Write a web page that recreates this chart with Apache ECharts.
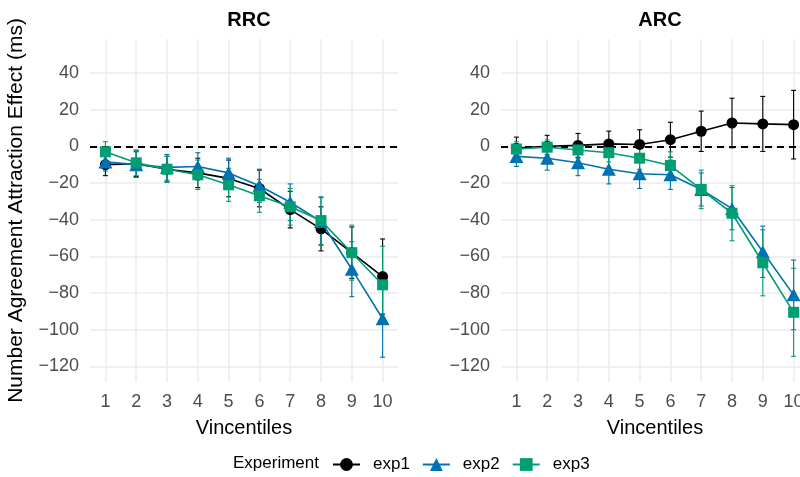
<!DOCTYPE html>
<html>
<head>
<meta charset="utf-8">
<script src="https://cdn.jsdelivr.net/npm/echarts@6/dist/echarts.min.js"></script>
<style>
html,body{margin:0;padding:0;background:#fff;}
#chart{width:800px;height:477px;}
</style>
</head>
<body>
<div id="chart"></div>
<script>
// ---------- data ----------
const vincentiles = [1, 2, 3, 4, 5, 6, 7, 8, 9, 10];
const yTicks = [-120, -100, -80, -60, -40, -20, 0, 20, 40];
const panels = ['RRC', 'ARC'];
const experiments = ['exp1', 'exp2', 'exp3'];

const rrcExp1 = [-10, -9.5, -12.5, -14.5, -17.5, -23, -34.5, -45, -58, -71];
const rrcExp2 = [-8.5, -10, -11.5, -11, -14.5, -21.5, -30.5, -41, -67, -94];
const rrcExp3 = [-3, -9, -12.5, -15.5, -21, -27, -33, -40.5, -58, -75.5];
const rrcExp1Err = [6, 7, 7, 8, 10, 10, 10, 12, 14, 20.5];
const rrcExp2Err = [5, 7, 7, 7.5, 8, 9, 10, 13, 15, 21];
const rrcExp3Err = [5.5, 7, 7, 8, 9, 9, 10, 13, 15, 21];

const arcExp1 = [-1, 0, 0.5, 1.3, 1, 3.6, 8.2, 12.7, 12.2, 11.8];
const arcExp2 = [-5.5, -6.5, -9, -12.5, -15, -15.5, -23.5, -34, -57.5, -81];
const arcExp3 = [-1.5, -0.5, -2, -3.5, -6.5, -10.5, -23.5, -36.5, -63.5, -90.5];
const arcExp1Err = [6, 6, 6.5, 7, 8, 9.5, 11, 13.5, 15, 18.7];
const arcExp2Err = [5.5, 6.5, 7, 8, 8, 8, 9, 11.5, 14, 19];
const arcExp3Err = [4, 4, 4.5, 5, 6, 7.5, 10.5, 15, 18, 24];

// ---------- styling ----------
const colors = {exp1: '#000000', exp2: '#0072B2', exp3: '#009E73'};
const symbols = {exp1: 'circle', exp2: 'triangle', exp3: 'rect'};
const symbolSizes = {exp1: 11, exp2: [14, 13], exp3: 11};
const FONT = '"Liberation Sans", Arial, Helvetica, sans-serif';

const panelData = [
  {means: [rrcExp1, rrcExp2, rrcExp3], errs: [rrcExp1Err, rrcExp2Err, rrcExp3Err]},
  {means: [arcExp1, arcExp2, arcExp3], errs: [arcExp1Err, arcExp2Err, arcExp3Err]}
];

const gridLefts = [90, 501];
const gridW = 308;

const grids = gridLefts.map(l => ({left: l, top: 39, width: gridW, height: 343, containLabel: false, outerBoundsMode: 'none'}));

const xAxes = gridLefts.map((l, i) => ({
  type: 'value', gridIndex: i, min: 0.5, max: 10.5,
  name: 'Vincentiles', nameLocation: 'middle', nameGap: 36,
  nameTextStyle: {fontFamily: FONT, fontSize: 20, color: '#000'},
  axisLine: {show: false}, axisTick: {show: false, customValues: vincentiles},
  axisLabel: {customValues: vincentiles, margin: 11, fontFamily: FONT, fontSize: 18, color: '#4D4D4D', hideOverlap: false},
  splitLine: {show: true, lineStyle: {color: '#EBEBEB', width: 1.5}}
}));

const yAxes = gridLefts.map((l, i) => ({
  type: 'value', gridIndex: i, min: -128.5, max: 58.5,
  name: i === 0 ? 'Number Agreement Attraction Effect (ms)' : '',
  nameLocation: 'middle', nameGap: 63, nameRotate: 90,
  nameTextStyle: {fontFamily: FONT, fontSize: 21, color: '#000'},
  axisLine: {show: false}, axisTick: {show: false, customValues: yTicks},
  axisLabel: {customValues: yTicks, margin: 11, fontFamily: FONT, fontSize: 18, color: '#4D4D4D',
    formatter: v => (v < 0 ? '\u2212' + Math.abs(v) : String(v))},
  splitLine: {show: true, lineStyle: {color: '#EBEBEB', width: 1.5}}
}));

const series = [];
panelData.forEach((pd, pi) => {
  // zero reference line
  series.push({
    type: 'line', name: 'zero' + pi, xAxisIndex: pi, yAxisIndex: pi, data: [], silent: true, z: 1,
    markLine: {
      silent: true, symbol: 'none', label: {show: false},
      lineStyle: {color: '#000', type: [7, 5], width: 1.8},
      data: [{yAxis: 0}], animation: false
    }
  });
  experiments.forEach((ex, ei) => {
    const means = pd.means[ei], errs = pd.errs[ei];
    const col = colors[ex];
    series.push({
      type: 'custom', name: ex + ' err ' + pi, xAxisIndex: pi, yAxisIndex: pi, z: 2 + ei,
      data: vincentiles.map((v, k) => [v, means[k] - errs[k], means[k] + errs[k]]),
      encode: {x: 0, y: [1, 2]},
      renderItem: (params, api) => {
        const x = api.value(0);
        const top = api.coord([x, api.value(2)]);
        const bot = api.coord([x, api.value(1)]);
        const hw = 2.5;
        const st = {stroke: col, lineWidth: 1.1};
        return {type: 'group', children: [
          {type: 'line', shape: {x1: top[0], y1: top[1], x2: bot[0], y2: bot[1]}, style: st},
          {type: 'line', shape: {x1: top[0] - hw, y1: top[1], x2: top[0] + hw, y2: top[1]}, style: st},
          {type: 'line', shape: {x1: bot[0] - hw, y1: bot[1], x2: bot[0] + hw, y2: bot[1]}, style: st}
        ]};
      }
    });
    series.push({
      type: 'line', name: ex, xAxisIndex: pi, yAxisIndex: pi, z: 5 + ei,
      data: vincentiles.map((v, k) => [v, means[k]]),
      symbol: symbols[ex], symbolSize: symbolSizes[ex], showAllSymbol: true,
      itemStyle: {color: col, borderWidth: 0},
      lineStyle: {color: col, width: 1.6},
      emphasis: {disabled: true}
    });
  });
});

const chart = echarts.init(document.getElementById('chart'), null, {renderer: 'canvas'});
chart.setOption({
  animation: false,
  backgroundColor: '#fff',
  grid: grids,
  xAxis: xAxes,
  yAxis: yAxes,
  title: [
    {text: panels[0], left: 244, top: 5, textAlign: 'center',
      textStyle: {fontFamily: FONT, fontSize: 20, fontWeight: 'bold', color: '#000'}},
    {text: panels[1], left: 655, top: 5, textAlign: 'center',
      textStyle: {fontFamily: FONT, fontSize: 20, fontWeight: 'bold', color: '#000'}},
    {text: 'Experiment', left: 228, top: 450,
      textStyle: {fontFamily: FONT, fontSize: 17, fontWeight: 'normal', color: '#000'}}
  ],
  legend: {
    data: experiments, left: 327, top: 451, orient: 'horizontal',
    itemWidth: 27, itemHeight: 16, itemGap: 12,
    textStyle: {fontFamily: FONT, fontSize: 17, color: '#000', padding: [0, 0, 0, 8]},
    selectedMode: false
  },
  series: series
});
</script>
</body>
</html>
